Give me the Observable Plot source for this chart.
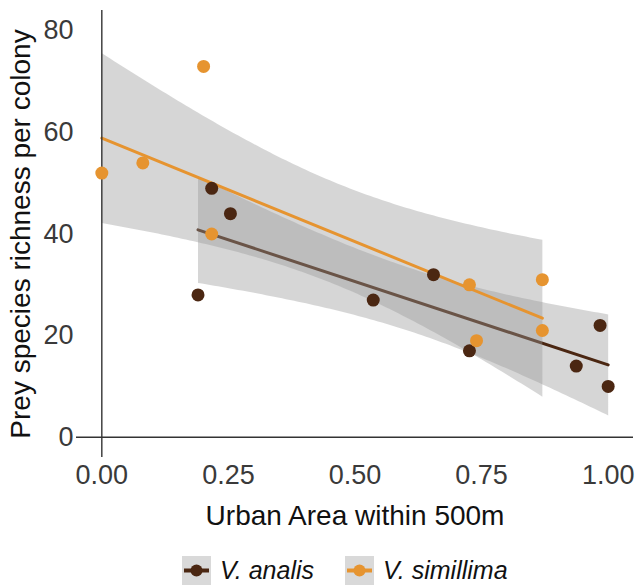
<!DOCTYPE html>
<html>
<head>
<meta charset="utf-8">
<script src="https://cdn.jsdelivr.net/npm/d3@7"></script>
<script src="https://cdn.jsdelivr.net/npm/@observablehq/plot@0.6"></script>
<style>
  html, body { margin: 0; padding: 0; background: #fff; }
  #wrap { width: 644px; height: 587px; position: relative; overflow: hidden; font-family: "Liberation Sans", Arial, sans-serif; }
  #legend { position: absolute; left: 182px; top: 556px; display: flex; align-items: center; height: 29px; }
  .item { display: flex; align-items: center; }
  .key { width: 29px; height: 29px; background: #d9d9d9; }
  .lab { font-style: italic; font-size: 25px; line-height: 27px; color: #111; margin-left: 9px; margin-right: 31px; }
</style>
</head>
<body>
<div id="wrap"><div id="chart"></div><div id="legend"></div></div>
<script>
// V. analis (dark brown)
const analisX = [0.19, 0.217, 0.254, 0.536, 0.655, 0.726, 0.937, 0.984, 1.0];
const analisY = [28, 49, 44, 27, 32, 17, 14, 22, 10];
// V. simillima (orange)
const simX = [0.0, 0.081, 0.201, 0.217, 0.726, 0.74, 0.87, 0.87];
const simY = [52, 54, 73, 40, 30, 19, 31, 21];

const seriesNames = ["V. analis", "V. simillima"];
const seriesColors = ["#4B2712", "#E69430"];
const xTicks = [0, 0.25, 0.5, 0.75, 1.0];
const yTicks = [0, 20, 40, 60, 80];
const xTitle = "Urban Area within 500m";
const yTitle = "Prey species richness per colony";

const analis = analisX.map((x, i) => ({x, y: analisY[i], s: seriesNames[0]}));
const sim = simX.map((x, i) => ({x, y: simY[i], s: seriesNames[1]}));
const font = "Liberation Sans, Arial, sans-serif";

const chart = Plot.plot({
  width: 644,
  height: 556,
  marginLeft: 76,
  marginRight: 11,
  marginTop: 10,
  marginBottom: 99,
  style: {fontFamily: font, background: "#fff"},
  x: {domain: [-0.05, 1.05]},
  y: {domain: [-4, 84]},
  marks: [
    Plot.linearRegressionY(analis, {x: "x", y: "y", stroke: seriesColors[0], strokeWidth: 3, fill: "#999999", fillOpacity: 0.4, ci: 0.95}),
    Plot.linearRegressionY(sim, {x: "x", y: "y", stroke: seriesColors[1], strokeWidth: 3, fill: "#999999", fillOpacity: 0.4, ci: 0.95}),
    Plot.ruleX([0], {stroke: "#333", strokeWidth: 1.4}),
    Plot.ruleY([0], {stroke: "#333", strokeWidth: 1.4}),
    Plot.dot(analis, {x: "x", y: "y", r: 6.5, fill: seriesColors[0], stroke: null}),
    Plot.dot(sim, {x: "x", y: "y", r: 6.5, fill: seriesColors[1], stroke: null}),
    Plot.axisX({ticks: xTicks, tickFormat: d3.format(".2f"), tickSize: 0, tickPadding: 7, fontSize: 27, fill: "#3a3a3a", label: null}),
    Plot.axisY({ticks: yTicks, tickSize: 0, tickPadding: 3, fontSize: 27, fill: "#3a3a3a", label: null}),
    Plot.text([xTitle], {frameAnchor: "bottom", dy: 59, fontSize: 28, fill: "#111", lineAnchor: "middle", textAnchor: "middle"}),
    Plot.text([yTitle], {frameAnchor: "left", dx: -55, rotate: -90, fontSize: 28, fill: "#111", lineAnchor: "middle", textAnchor: "middle"})
  ]
});
document.getElementById("chart").appendChild(chart);

// legend
const legend = d3.select("#legend");
seriesNames.forEach((name, i) => {
  const item = legend.append("div").attr("class", "item");
  const svg = item.append("svg").attr("class", "key").attr("width", 29).attr("height", 29);
  svg.append("line").attr("x1", 2).attr("x2", 27).attr("y1", 14.5).attr("y2", 14.5)
    .attr("stroke", seriesColors[i]).attr("stroke-width", 4);
  svg.append("circle").attr("cx", 14.5).attr("cy", 14.5).attr("r", 6).attr("fill", seriesColors[i]);
  item.append("span").attr("class", "lab").text(name);
});
</script>
</body>
</html>
